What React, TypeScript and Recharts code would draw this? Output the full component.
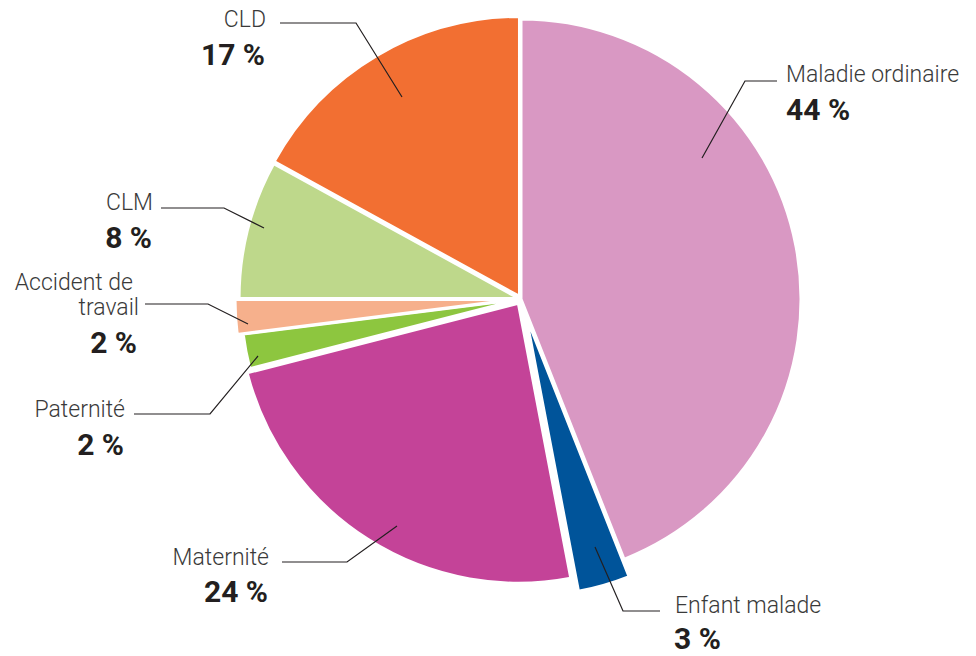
import React from 'react';
import { PieChart, Pie, Cell } from 'recharts';

const categories = ['Maladie ordinaire', 'Enfant malade', 'Maternité', 'Paternité', 'Accident de travail', 'CLM', 'CLD'];
const values = [44, 3, 24, 2, 2, 8, 17];
const percentLabels = ['44 %', '3 %', '24 %', '2 %', '2 %', '8 %', '17 %'];
const nameLines = [['Maladie ordinaire'], ['Enfant malade'], ['Maternité'], ['Paternité'], ['Accident de', 'travail'], ['CLM'], ['CLD']];

const colors = ['#D998C3', '#00549A', '#C44398', '#8DC63F', '#F6B08C', '#BED88B', '#F26F32'];
const explode = [0, 18, 5, 0, 6, 2, 3];

// label annotation layout (leader line points, text anchor x, baselines)
const labelLayout = [
  { pts: [[702, 158], [745, 81], [777, 81]], tx: 786, anchor: 'start', nameX: [786], nameY: [82], pctY: 120 },
  { pts: [[595, 547], [623, 611], [660, 611]], tx: 674, anchor: 'start', nameX: [675], nameY: [613], pctY: 649 },
  { pts: [[397, 526], [347, 562], [282, 562]], tx: 268, anchor: 'end', nameX: [269], nameY: [565], pctY: 602 },
  { pts: [[258, 356], [210, 414], [134, 414]], tx: 124, anchor: 'end', nameX: [125], nameY: [417], pctY: 455 },
  { pts: [[248, 324], [208, 304], [145, 304]], tx: 137, anchor: 'end', nameX: [133, 139], nameY: [290, 315], pctY: 353 },
  { pts: [[264, 228], [224, 208], [161, 208]], tx: 152, anchor: 'end', nameX: [153], nameY: [210], pctY: 248 },
  { pts: [[402, 97], [356, 23], [280, 23]], tx: 265, anchor: 'end', nameX: [266], nameY: [27], pctY: 65 },
];

const data = categories.map((name, i) => ({ name, value: values[i] }));

const START = 90;
const END = -270;
const total = values.reduce((a, b) => a + b, 0);
const offsets = (() => {
  let cum = 0;
  return values.map((v, i) => {
    const mid = START - ((cum + v / 2) / total) * 360;
    cum += v;
    const r = (mid * Math.PI) / 180;
    return { dx: explode[i] * Math.cos(r), dy: -explode[i] * Math.sin(r) };
  });
})();

const renderLabel = (props: any) => {
  const i = props.index;
  const L = labelLayout[i];
  if (!L) return null;
  return (
    <g key={`lbl-${i}`}>
      <polyline
        points={L.pts.map((p) => p.join(',')).join(' ')}
        fill="none"
        stroke="#231F20"
        strokeWidth={1.2}
      />
      {nameLines[i].map((t, j) => (
        <text
          key={j}
          x={L.nameX[j]}
          y={L.nameY[j]}
          textAnchor={L.anchor as any}
          fontFamily="Roboto, 'Noto Sans', sans-serif"
          fontWeight={300}
          fontSize={23}
          fill="#3A3A3A"
        >
          {t}
        </text>
      ))}
      <text
        x={L.tx}
        y={L.pctY}
        textAnchor={L.anchor as any}
        fontFamily="Roboto, 'Noto Sans', sans-serif"
        fontWeight={700}
        fontSize={30}
        fill="#231F20"
      >
        {percentLabels[i]}
      </text>
    </g>
  );
};

export default function App() {
  return (
    <div style={{ position: 'absolute', left: 0, top: 0, width: 976, height: 656, background: '#fff' }}>
      <PieChart width={976} height={656} margin={{ top: 0, right: 0, bottom: 0, left: 0 }}>
        <Pie
          data={data}
          dataKey="value"
          nameKey="name"
          cx={521}
          cy={299}
          outerRadius={280}
          innerRadius={0}
          startAngle={START}
          endAngle={END}
          stroke="#FFFFFF"
          strokeWidth={3}
          isAnimationActive={false}
          label={renderLabel}
          labelLine={false}
        >
          {data.map((d, i) => (
            <Cell
              key={d.name}
              fill={colors[i]}
              style={{ transform: `translate(${offsets[i].dx}px, ${offsets[i].dy}px)` }}
            />
          ))}
        </Pie>
      </PieChart>
    </div>
  );
}
